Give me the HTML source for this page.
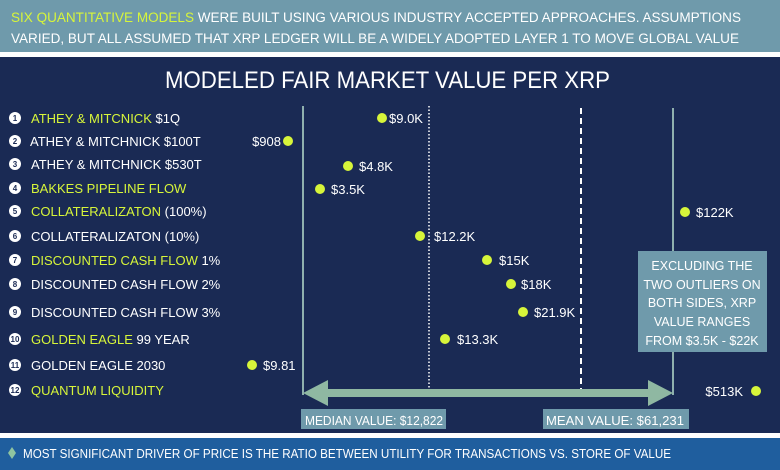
<!DOCTYPE html>
<html><head><meta charset="utf-8"><style>
html,body{margin:0;padding:0;background:#1a2a54;}
svg{display:block;font-family:"Liberation Sans",sans-serif;}
</style></head><body>
<svg width="780" height="470" viewBox="0 0 780 470" xmlns="http://www.w3.org/2000/svg">
<rect x="0" y="0" width="780" height="470" fill="#1a2a54"/>
<rect x="0" y="0" width="780" height="52" fill="#6f9aab"/>
<rect x="0" y="52" width="780" height="5" fill="#ffffff"/>
<g font-size="13.5" fill="#ffffff">
<text x="11" y="22" textLength="730" lengthAdjust="spacingAndGlyphs"><tspan fill="#d7f53a">SIX QUANTITATIVE MODELS</tspan> WERE BUILT USING VARIOUS INDUSTRY ACCEPTED APPROACHES. ASSUMPTIONS</text>
<text x="11" y="43" textLength="728" lengthAdjust="spacingAndGlyphs">VARIED, BUT ALL ASSUMED THAT XRP LEDGER WILL BE A WIDELY ADOPTED LAYER 1 TO MOVE GLOBAL VALUE</text>
</g>
<text x="165" y="88" font-size="24" fill="#ffffff" textLength="445" lengthAdjust="spacingAndGlyphs">MODELED FAIR MARKET VALUE PER XRP</text>

<rect x="0" y="433" width="780" height="5" fill="#ffffff"/>
<rect x="0" y="438" width="780" height="32" fill="#1f5e9e"/>
<path d="M12 447 L16 453 L12 459 L8 453 Z" fill="#8fc4a0"/>
<text x="23" y="458" font-size="13" fill="#ffffff" textLength="648" lengthAdjust="spacingAndGlyphs">MOST SIGNIFICANT DRIVER OF PRICE IS THE RATIO BETWEEN UTILITY FOR TRANSACTIONS VS. STORE OF VALUE</text>

<!-- vertical lines -->
<line x1="303" y1="106" x2="303" y2="395" stroke="#8fb0ae" stroke-width="2"/>
<line x1="429" y1="106" x2="429" y2="392" stroke="#ffffff" stroke-width="1.5" stroke-dasharray="1.5,2"/>
<line x1="581" y1="108" x2="581" y2="392" stroke="#ffffff" stroke-width="2" stroke-dasharray="6,4"/>
<line x1="673" y1="108" x2="673" y2="395" stroke="#8fb0ae" stroke-width="2"/>

<!-- arrow -->
<path d="M303 393 L328 380 L328 389 L648 389 L648 380 L673 393 L648 406 L648 397 L328 397 L328 406 Z" fill="#8fb8a2"/>

<rect x="301" y="409" width="145" height="20" fill="#6f9aab"/>
<text x="305" y="425" font-size="13" fill="#ffffff" textLength="138" lengthAdjust="spacingAndGlyphs">MEDIAN VALUE: $12,822</text>
<rect x="543" y="409" width="146" height="20" fill="#6f9aab"/>
<text x="546" y="425" font-size="13" fill="#ffffff" textLength="138" lengthAdjust="spacingAndGlyphs">MEAN VALUE: $61,231</text>

<rect x="638" y="251" width="129" height="101" fill="#6f9aab"/>
<g font-size="12.5" fill="#ffffff" text-anchor="middle">
<text x="702" y="270">EXCLUDING THE</text>
<text x="702" y="289">TWO OUTLIERS ON</text>
<text x="702" y="307">BOTH SIDES, XRP</text>
<text x="702" y="326">VALUE RANGES</text>
<text x="702" y="345">FROM $3.5K - $22K</text>
</g>

<!-- left labels -->
<g font-size="13" fill="#ffffff">
<g fill="#ffffff"><circle cx="15" cy="118" r="6"/><circle cx="15" cy="141" r="6"/><circle cx="15" cy="164" r="6"/><circle cx="15" cy="188" r="6"/><circle cx="15" cy="211" r="6"/><circle cx="15" cy="236" r="6"/><circle cx="15" cy="260" r="6"/><circle cx="15" cy="284" r="6"/><circle cx="15" cy="312" r="6"/><circle cx="15" cy="339" r="6"/><circle cx="15" cy="365" r="6"/><circle cx="15" cy="390" r="6"/></g>
<g font-size="8" font-weight="bold" fill="#1a2a54" text-anchor="middle">
<text x="15" y="121">1</text><text x="15" y="144">2</text><text x="15" y="167">3</text><text x="15" y="191">4</text><text x="15" y="214">5</text><text x="15" y="239">6</text><text x="15" y="263">7</text><text x="15" y="287">8</text><text x="15" y="315">9</text><text x="15" y="342">10</text><text x="15" y="368">11</text><text x="15" y="393">12</text>
</g>
<text x="31" y="123"><tspan fill="#d7f53a">ATHEY &amp; MITCNICK</tspan> $1Q</text>
<text x="30" y="146">ATHEY &amp; MITCHNICK $100T</text>
<text x="31" y="169">ATHEY &amp; MITCHNICK $530T</text>
<text x="31" y="193" fill="#d7f53a">BAKKES PIPELINE FLOW</text>
<text x="31" y="216"><tspan fill="#d7f53a">COLLATERALIZATON</tspan> (100%)</text>
<text x="31" y="241">COLLATERALIZATON (10%)</text>
<text x="31" y="265"><tspan fill="#d7f53a">DISCOUNTED CASH FLOW</tspan> 1%</text>
<text x="31" y="289">DISCOUNTED CASH FLOW 2%</text>
<text x="31" y="317">DISCOUNTED CASH FLOW 3%</text>
<text x="31" y="344"><tspan fill="#d7f53a">GOLDEN EAGLE</tspan> 99 YEAR</text>
<text x="31" y="370">GOLDEN EAGLE 2030</text>
<text x="31" y="395" fill="#d7f53a">QUANTUM LIQUIDITY</text>
</g>

<!-- dots -->
<g fill="#d7f53a">
<circle cx="382" cy="118" r="5"/><circle cx="288" cy="141" r="5"/><circle cx="348" cy="166" r="5"/><circle cx="320" cy="189" r="5"/><circle cx="685" cy="212" r="5"/><circle cx="420" cy="236" r="5"/><circle cx="487" cy="260" r="5"/><circle cx="511" cy="284" r="5"/><circle cx="523" cy="312" r="5"/><circle cx="445" cy="339" r="5"/><circle cx="252" cy="365" r="5"/><circle cx="756" cy="391" r="5"/>
</g>
<g font-size="13" fill="#ffffff">
<text x="389" y="123">$9.0K</text>
<text x="281" y="146" text-anchor="end">$908</text>
<text x="359" y="171">$4.8K</text>
<text x="331" y="194">$3.5K</text>
<text x="696" y="217">$122K</text>
<text x="434" y="241">$12.2K</text>
<text x="499" y="265">$15K</text>
<text x="521" y="289">$18K</text>
<text x="534" y="317">$21.9K</text>
<text x="457" y="344">$13.3K</text>
<text x="263" y="370">$9.81</text>
<text x="743" y="396" text-anchor="end">$513K</text>
</g>
</svg>
</body></html>
